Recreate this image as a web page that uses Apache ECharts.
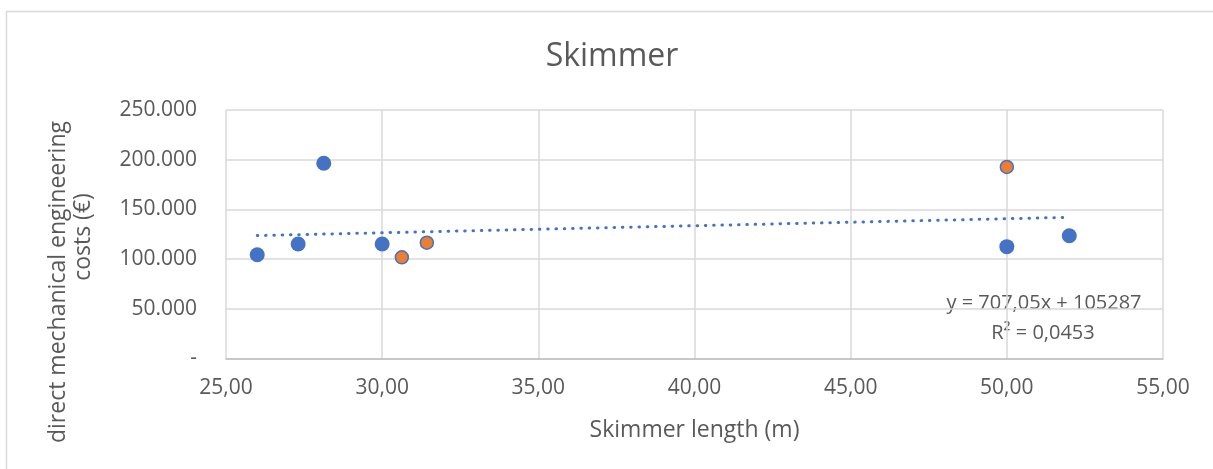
<!DOCTYPE html>
<html><head><meta charset="utf-8">
<script src="https://cdn.jsdelivr.net/npm/echarts@6/dist/echarts.min.js"></script>
<style>html,body{margin:0;padding:0;background:#fff;}#c{width:1213px;height:469px;}</style>
</head><body><div id="c"></div>
<script>
const titleText = 'Skimmer';
const xAxisTitle = 'Skimmer length (m)';
const yAxisTitleLines = ['direct mechanical engineering', 'costs (€)'];
const blueX = [26.0, 27.31, 28.13, 30.0, 50.0, 52.0];
const blueY = [104400, 115200, 196400, 115200, 112500, 123500];
const orangeX = [30.63, 31.43, 50.0];
const orangeY = [101800, 116500, 192700];
const trendX = [26, 52];
const trendY = [123670, 142053];
const equationLines = ['y = 707,05x + 105287', 'R² = 0,0453'];

const FONT = 'Open Sans';
const GRAY = '#595959';
const zip = (a, b) => a.map((v, i) => [v, b[i]]);

const chart = echarts.init(document.getElementById('c'), null, {renderer: 'canvas'});
chart.setOption({
  animation: false,
  backgroundColor: '#fff',
  textStyle: {fontFamily: FONT},
  title: {
    text: titleText, left: 607, top: 36, textAlign: 'center',
    textStyle: {fontFamily: FONT, fontSize: 32, fontWeight: 'normal', color: GRAY}
  },
  grid: {left: 226, right: 50, top: 110, bottom: 110.5, containLabel: false},
  xAxis: {
    type: 'value', min: 25, max: 55, interval: 5,
    name: xAxisTitle, nameLocation: 'middle', nameGap: 60,
    nameTextStyle: {fontFamily: FONT, fontSize: 23, color: GRAY},
    axisLine: {show: true, lineStyle: {color: '#bfbfbf', width: 1.5}},
    axisTick: {show: false},
    axisLabel: {margin: 19, fontFamily: FONT, fontSize: 21, color: GRAY,
      formatter: v => v.toFixed(2).replace('.', ',')},
    splitLine: {show: true, lineStyle: {color: '#d9d9d9', width: 1.5}}
  },
  yAxis: {
    type: 'value', min: 0, max: 250000, interval: 50000,
    axisLine: {show: false}, axisTick: {show: false},
    axisLabel: {margin: 29, fontFamily: FONT, fontSize: 21, color: GRAY,
      formatter: v => v === 0 ? '-' : v.toLocaleString('de-DE') },
    splitLine: {show: true, lineStyle: {color: '#d9d9d9', width: 1.5}}
  },
  graphic: [
    {type: 'line', shape: {x1: 6, y1: 11.5, x2: 1213, y2: 11.5}, style: {stroke: '#d9d9d9', lineWidth: 1.5}, silent: true},
    {type: 'line', shape: {x1: 6.5, y1: 11, x2: 6.5, y2: 469}, style: {stroke: '#d9d9d9', lineWidth: 1.5}, silent: true},
    {type: 'text', x: 58, y: 282, rotation: Math.PI / 2,
      style: {text: yAxisTitleLines[0], font: '23px "Open Sans"', fill: GRAY, textAlign: 'center', textVerticalAlign: 'middle'}},
    {type: 'text', x: 83, y: 237, rotation: Math.PI / 2,
      style: {text: yAxisTitleLines[1], font: '23px "Open Sans"', fill: GRAY, textAlign: 'center', textVerticalAlign: 'middle'}},
    {type: 'text', x: 1044, y: 303,
      style: {text: equationLines[0], font: '20px "Open Sans"', fill: GRAY, textAlign: 'center', textVerticalAlign: 'middle'}},
    {type: 'text', x: 1043, y: 333,
      style: {text: equationLines[1], font: '20px "Open Sans"', fill: GRAY, textAlign: 'center', textVerticalAlign: 'middle'}}
  ],
  series: [
    {type: 'scatter', data: zip(blueX, blueY), symbolSize: 15, z: 2,
      itemStyle: {color: '#4472C4', opacity: 1}},
    {type: 'scatter', data: zip(orangeX, orangeY), symbolSize: 13, z: 2,
      itemStyle: {color: '#ED7D31', borderColor: '#4472C4', borderWidth: 1.5, opacity: 1}},
    {type: 'line', data: zip(trendX, trendY), showSymbol: false, symbol: 'none', z: 3,
      lineStyle: {color: '#4472C4', width: 3, type: [0.5, 7.8], cap: 'round'}}
  ]
});
</script></body></html>
